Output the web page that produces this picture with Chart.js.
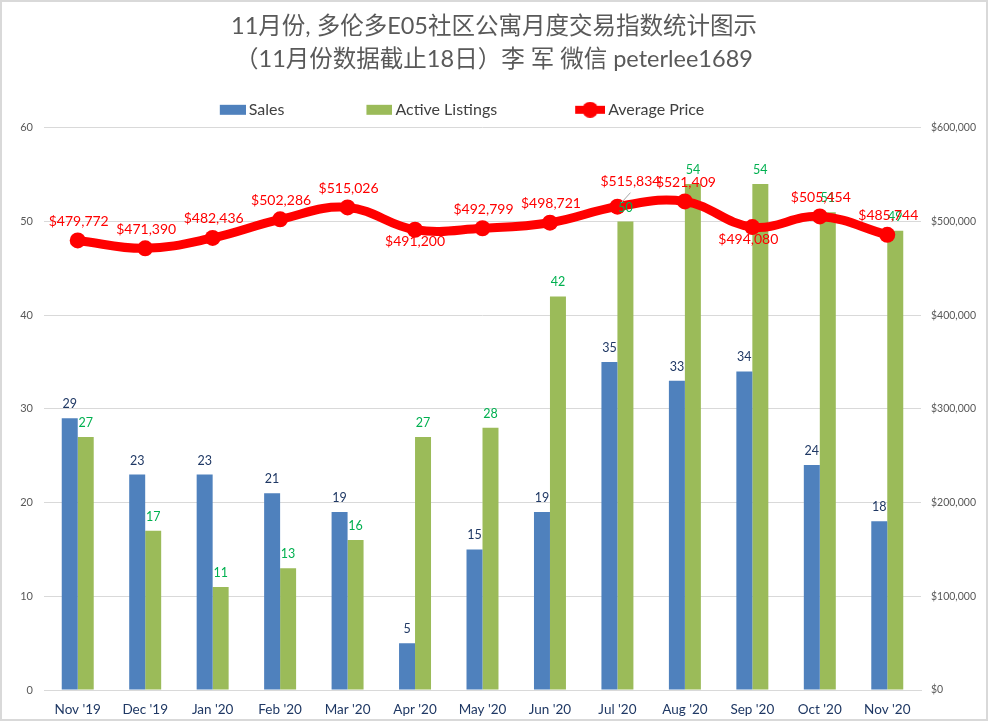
<!DOCTYPE html>
<html>
<head>
<meta charset="utf-8">
<title>E05</title>
<script src="https://cdn.jsdelivr.net/npm/chart.js@4"></script>
<style>
  html, body { margin: 0; padding: 0; background: #fff; }
  #wrap { width: 988px; height: 721px; position: relative; }
  #grafico { outline: 2px solid #d9d9d9; outline-offset: -2px; }
</style>
</head>
<body>
<div id="wrap"><canvas id="grafico"></canvas></div>
<script>
const titulo = ["11月份, 多伦多E05社区公寓月度交易指数统计图示", "（11月份数据截止18日）李 军 微信 peterlee1689"];
const meses = ["Nov '19", "Dec '19", "Jan '20", "Feb '20", "Mar '20", "Apr '20", "May '20", "Jun '20", "Jul '20", "Aug '20", "Sep '20", "Oct '20", "Nov '20"];
const sales = [29, 23, 23, 21, 19, 5, 15, 19, 35, 33, 34, 24, 18];
const listings = [27, 17, 11, 13, 16, 27, 28, 42, 50, 54, 54, 51, 49];
const precios = [479772, 471390, 482436, 502286, 515026, 491200, 492799, 498721, 515834, 521409, 494080, 505454, 485744];

const FUENTE = "Lato, 'Noto Sans CJK SC', sans-serif";
const AZUL = "#4f81bd";
const VERDE = "#9bbb59";
const ROJO = "#ff0000";

// desplazamiento de cada etiqueta de precio respecto a su punto
function desplazamientoPrecio(i) {
  if (i === 5) return { x: 0, y: 12 };
  if (i === 8) return { x: 13, y: -25 };
  if (i === 10) return { x: -4, y: 12 };
  return { x: 1, y: -19 };
}

const etiquetas = {
  id: "etiquetas",
  afterLayout(chart) {
    // la leyenda del original no esta centrada
    chart.legend.left -= 68;
    chart.legend.right -= 68;
  },
  afterDatasetsDraw(chart) {
    const c = chart.ctx;
    c.save();
    c.textAlign = "center";
    c.textBaseline = "middle";

    c.font = "12.5px " + FUENTE;
    c.fillStyle = "#1f3864";
    chart.getDatasetMeta(0).data.forEach((barra, i) => {
      c.fillText(String(sales[i]), barra.x, barra.y - 14);
    });
    c.fillStyle = "#00b050";
    chart.getDatasetMeta(1).data.forEach((barra, i) => {
      c.fillText(String(listings[i]), barra.x, barra.y - 14);
    });

    // linea guia de la etiqueta de Jul '20
    const p8 = chart.getDatasetMeta(2).data[8];
    c.strokeStyle = "#a6a6a6";
    c.lineWidth = 1;
    c.beginPath();
    c.moveTo(p8.x + 13, p8.y - 14);
    c.lineTo(p8.x + 4, p8.y - 4);
    c.stroke();

    c.font = "14px " + FUENTE;
    c.fillStyle = ROJO;
    chart.getDatasetMeta(2).data.forEach((punto, i) => {
      const d = desplazamientoPrecio(i);
      c.fillText("$" + precios[i].toLocaleString("en-US"), punto.x + d.x, punto.y + d.y);
    });
    c.restore();
  }
};

// el simbolo lleva a la izquierda el hueco entre elementos de la leyenda
const ANCHO_SIMBOLO = 103;

function muestraRect(color) {
  const m = document.createElement("canvas");
  m.width = ANCHO_SIMBOLO;
  m.height = 14;
  const g = m.getContext("2d");
  g.fillStyle = color;
  g.fillRect(ANCHO_SIMBOLO - 26, 2, 26, 10);
  return m;
}

function muestraLinea() {
  const m = document.createElement("canvas");
  m.width = ANCHO_SIMBOLO;
  m.height = 16;
  const g = m.getContext("2d");
  g.fillStyle = ROJO;
  g.fillRect(ANCHO_SIMBOLO - 30, 4, 30, 8);
  g.beginPath();
  g.arc(ANCHO_SIMBOLO - 15, 8, 8, 0, Math.PI * 2);
  g.fill();
  return m;
}

const simbolos = [muestraRect(AZUL), muestraRect(VERDE), muestraLinea()];

new Chart(document.getElementById("grafico").getContext("2d"), {
  type: "bar",
  plugins: [etiquetas],
  data: {
    labels: meses,
    datasets: [
      { label: "Sales", data: sales, backgroundColor: AZUL, yAxisID: "y", order: 2,
        categoryPercentage: 0.474, barPercentage: 1 },
      { label: "Active Listings", data: listings, backgroundColor: VERDE, yAxisID: "y", order: 2,
        categoryPercentage: 0.474, barPercentage: 1 },
      { label: "Average Price", type: "line", data: precios, yAxisID: "y1", order: 1,
        borderColor: ROJO, backgroundColor: ROJO, borderWidth: 9, tension: 0.4,
        pointRadius: 8, pointHoverRadius: 8, pointBorderWidth: 0, fill: false }
    ]
  },
  options: {
    responsive: true,
    maintainAspectRatio: false,
    animation: false,
    layout: { padding: { top: 10, left: 0, right: 0, bottom: 0 } },
    plugins: {
      title: {
        display: true,
        text: titulo,
        color: "#595959",
        font: { family: FUENTE, size: 23.5, weight: "normal", lineHeight: 1.4 },
        padding: { top: 0, bottom: 16 }
      },
      legend: {
        position: "top",
        labels: {
          color: "#404040",
          font: { family: FUENTE, size: 16 },
          usePointStyle: true,
          pointStyleWidth: 93,
          padding: 10,
          generateLabels(chart) {
            return chart.data.datasets.map((d, i) => ({
              text: d.label,
              pointStyle: simbolos[i],
              fontColor: "#404040",
              datasetIndex: i
            }));
          }
        }
      },
      tooltip: { enabled: false }
    },
    scales: {
      x: {
        afterFit(s) { s.height = 31; },
        grid: { display: false },
        border: { color: "#d9d9d9" },
        ticks: { color: "#1f3864", font: { family: FUENTE, size: 13.5 }, maxRotation: 0, autoSkip: false, padding: 4 }
      },
      y: {
        min: 0,
        max: 60,
        afterFit(s) { s.width = 44; },
        grid: { color: "#d9d9d9", drawTicks: false },
        border: { display: false },
        ticks: { stepSize: 10, color: "#595959", font: { family: FUENTE, size: 11 }, padding: 11 }
      },
      y1: {
        position: "right",
        min: 0,
        max: 600000,
        afterFit(s) { s.width = 67; },
        grid: { display: false, drawTicks: false },
        border: { display: false },
        ticks: {
          stepSize: 100000,
          color: "#595959",
          font: { family: FUENTE, size: 10.5 },
          padding: 10,
          callback: v => "$" + Number(v).toLocaleString("en-US")
        }
      }
    }
  }
});
</script>
</body>
</html>
